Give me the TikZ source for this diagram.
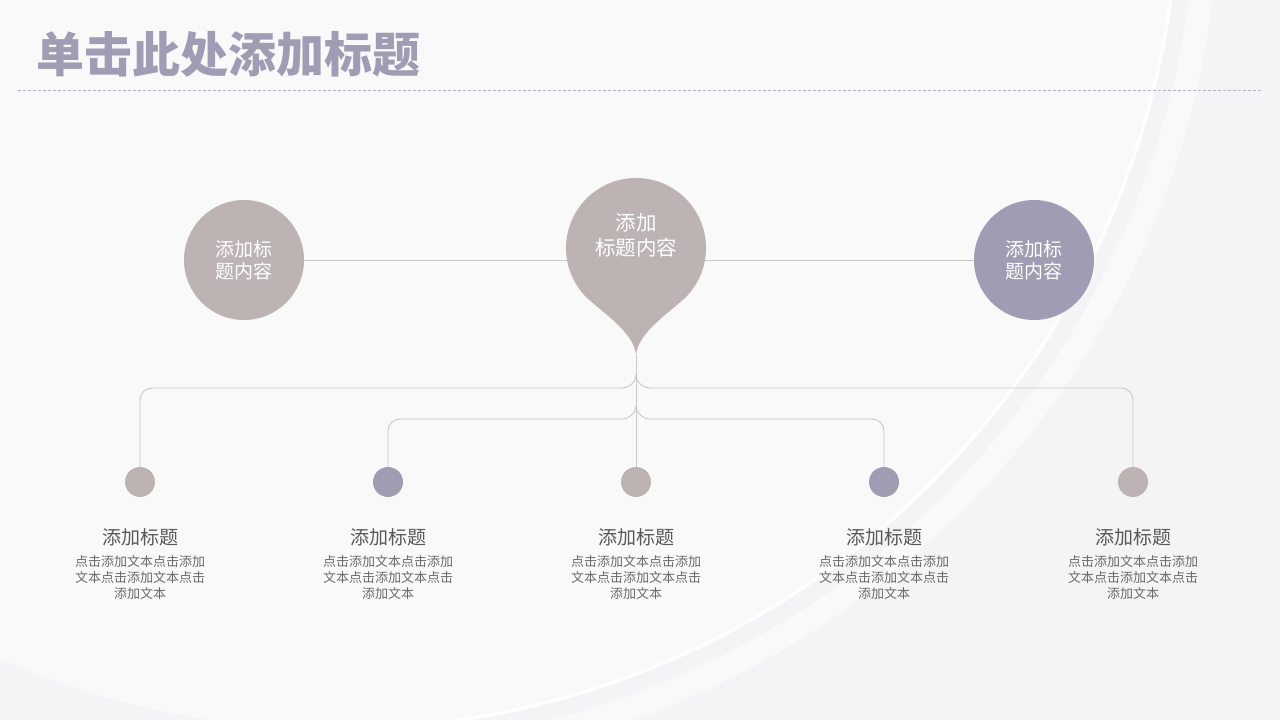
\documentclass[tikz,border=0pt]{standalone}
\usepackage{fontspec}
\setmainfont{Noto Sans CJK SC}
\definecolor{taupe}{HTML}{BDB3B2}
\definecolor{lilac}{HTML}{9F9CB4}
\definecolor{wire}{HTML}{C8C8C8}
\definecolor{ink}{HTML}{595959}
\definecolor{paper}{HTML}{F4F3F5}
\tikzset{
  bigdot/.style={circle, minimum size=120pt, inner sep=0pt, text=white, align=center,
    font=\fontsize{19}{22}\selectfont},
  smalldot/.style={circle, minimum size=30pt, inner sep=0pt},
  link/.style={wire, line width=0.9pt},
}
\begin{document}
\begin{tikzpicture}[x=1pt, y=-1pt]
    % background with the soft arc
    \useasboundingbox (0,0) rectangle (1280,720);
    \fill[paper] (0,0) rectangle (1280,720);
    \begin{scope}
      \clip (0,0) rectangle (1280,720);
      \fill[white, opacity=0.55] (336,-113) circle (842);
    \end{scope}
    \begin{scope}
      \clip (400,0) rectangle (1280,720);
      \draw[white, opacity=0.5, line width=24pt] (336,-113) circle (872);
      \draw[white, opacity=0.95, line width=3.5pt] (336,-113) circle (842);
    \end{scope}

    % title and rule
    \node[anchor=west, inner sep=0pt, text=lilac, font=\fontsize{48}{48}\selectfont\bfseries] (title) at (36,54) {单击此处添加标题};
    \draw[lilac!80, line width=0.7pt, dash pattern=on 3pt off 2pt] (18,90) -- (1262,90);

    % top row
    \node[bigdot, fill=taupe] (L) at (244,260) {添加标\\题内容};
    \node[bigdot, fill=lilac] (R) at (1034,260) {添加标\\题内容};
    \draw[link] (L) -- (R);
    \fill[taupe] (582.4,293) arc[start angle=140, end angle=400, radius=70]
      .. controls (676.8,308.4) and (638,330) .. (636,355)
      .. controls (634,330) and (595.2,308.4) .. cycle;
    \node[text=white, align=center, font=\fontsize{20.5}{25}\selectfont] (pin) at (636,235) {添加\\标题内容};
    \coordinate (tip) at (636,355);

    % bottom row
    \foreach \x/\c [count=\i] in {140/taupe, 388/lilac, 636/taupe, 884/lilac, 1133/taupe} {
      \node[smalldot, fill=\c] (d\i) at (\x,482) {};
      \node[text=ink, font=\fontsize{19}{20}\selectfont] (h\i) at (\x,537) {添加标题};
      \node[text=ink!90, align=center, font=\fontsize{13}{16}\selectfont] (t\i) at (\x,578) {点击添加文本点击添加\\文本点击添加文本点击\\添加文本};
    }

    % branches
    \draw[link] (tip) -- (d3);
    \coordinate (j1) at (636,375);
    \coordinate (j2) at (636,406);
    \foreach \j/\l/\r in {j1/d1/d5, j2/d2/d4} {
      \draw[link] (\j) .. controls +(0,8) and +(6,0) .. ++(-14,13) coordinate (\j l);
      \draw[link] (\j) .. controls +(0,8) and +(-6,0) .. ++(14,13) coordinate (\j r);
      \draw[link, rounded corners=12pt] (\j l) -| (\l);
      \draw[link, rounded corners=12pt] (\j r) -| (\r);
    }
\end{tikzpicture}
\end{document}
